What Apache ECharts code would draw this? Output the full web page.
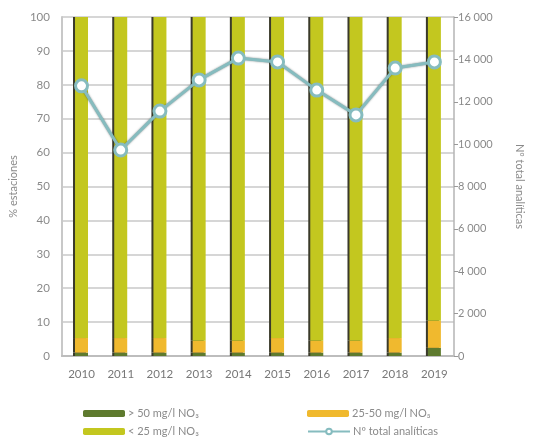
<!DOCTYPE html>
<html>
<head>
<meta charset="utf-8">
<script src="https://cdn.jsdelivr.net/npm/echarts@6/dist/echarts.min.js"></script>
<style>
  html, body { margin: 0; padding: 0; background: #fff; }
  #chartmain { width: 533px; height: 439px; }
</style>
</head>
<body>
<div id="chartmain"></div>
<script>
// datos
var years = ['2010', '2011', '2012', '2013', '2014', '2015', '2016', '2017', '2018', '2019'];
var gt50 = [1, 1, 1, 1, 1, 1, 1, 1, 1, 2.4];           // > 50 mg/l
var mid = [4.3, 4.3, 4.3, 3.5, 3.5, 4.3, 3.5, 3.5, 4.3, 8.0]; // 25-50 mg/l
var lt25 = [94.7, 94.7, 94.7, 95.5, 95.5, 94.7, 95.5, 95.5, 94.7, 89.6]; // < 25 mg/l
var analiticas = [12750, 9720, 11560, 13030, 14060, 13880, 12550, 11380, 13590, 13880];

var txt = '#8a8a8a';
var font = 'Lato';

// sombra oscura a la izquierda de cada barra
var barEdge = { shadowColor: '#3a3a2a', shadowOffsetX: -2, shadowBlur: 0 };

function fmtMiles(v) {
    var s = String(v);
    return s.length > 3 ? s.slice(0, s.length - 3) + ' ' + s.slice(-3) : s;
}

// una leyenda por elemento, colocada a mano
function legendItem(name, left, top) {
    return {
        left: left, top: top, itemWidth: 42, itemHeight: 7,
        textStyle: { color: txt, fontSize: 11, fontFamily: font, padding: [0, 0, 0, -2] },
        data: [name]
    };
}

var myChart = echarts.init(document.getElementById('chartmain'));

var option = {
    animation: false,
    textStyle: { fontFamily: font },
    grid: { left: 58, right: 67, top: 17, bottom: 83 },
    legend: [
        legendItem('> 50 mg/l NO₃', 78, 403),
        legendItem('< 25 mg/l NO₃', 78, 421),
        legendItem('25-50 mg/l NO₃', 302, 403),
        legendItem('Nº total analíticas', 302, 421)
    ],
    xAxis: {
        type: 'category',
        data: years,
        axisLine: { lineStyle: { color: '#bdbdbd', width: 2 } },
        axisTick: { show: false },
        axisLabel: { color: '#777', fontSize: 11.5, margin: 12 }
    },
    yAxis: [{
        type: 'value', min: 0, max: 100, interval: 10,
        name: '% estaciones', nameLocation: 'middle', nameGap: 29,
        nameTextStyle: { color: txt, fontSize: 11 },
        axisLine: { show: true, lineStyle: { color: '#c8c8c8', width: 2 } },
        axisTick: { show: false },
        axisLabel: { color: txt, fontSize: 11.5, margin: 12 },
        splitLine: { lineStyle: { color: '#d6d6d6', width: 2 } }
    }, {
        type: 'value', min: 0, max: 16000, interval: 2000, position: 'right',
        name: 'Nº total analíticas', nameLocation: 'middle', nameGap: 60, nameRotate: -90,
        nameTextStyle: { color: txt, fontSize: 11 },
        axisLine: { show: true, lineStyle: { color: '#b5b5b5', width: 1.5 } },
        axisTick: { show: true, length: 4, lineStyle: { color: '#999' } },
        axisLabel: { color: txt, fontSize: 11, margin: 4, formatter: fmtMiles },
        splitLine: { show: false }
    }],
    series: [{
        name: '> 50 mg/l NO₃', type: 'bar', stack: 'est', barWidth: 13,
        itemStyle: Object.assign({ color: '#5e7a2e' }, barEdge),
        data: gt50
    }, {
        name: '25-50 mg/l NO₃', type: 'bar', stack: 'est',
        itemStyle: Object.assign({ color: '#f0b92e' }, barEdge),
        data: mid
    }, {
        name: '< 25 mg/l NO₃', type: 'bar', stack: 'est',
        itemStyle: Object.assign({ color: '#c3c71f' }, barEdge),
        data: lt25
    }, {
        name: 'Nº total analíticas', type: 'line', yAxisIndex: 1,
        symbol: 'circle', symbolSize: 12,
        lineStyle: { color: '#86bcbf', width: 3, shadowColor: 'rgba(40,60,60,0.6)', shadowBlur: 2 },
        itemStyle: { color: '#ffffff', borderColor: '#86bcbf', borderWidth: 3 },
        data: analiticas
    }]
};

myChart.setOption(option);
window.addEventListener('resize', function () {
    myChart.resize();
});
</script>
</body>
</html>
